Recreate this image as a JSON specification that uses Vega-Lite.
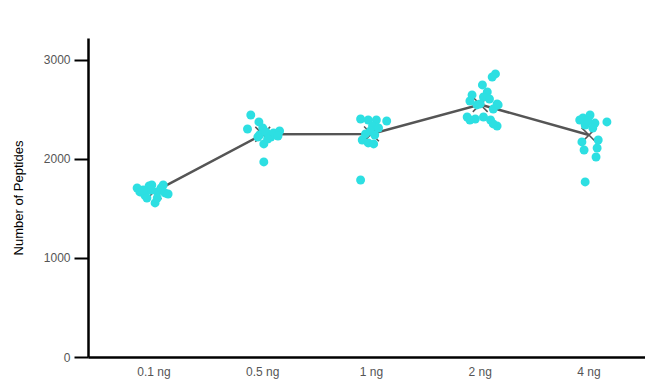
{
  "$schema": "https://vega.github.io/schema/vega-lite/v6.json",
  "width": 557,
  "height": 319,
  "autosize": {"type": "none"},
  "padding": {"left": 88, "top": 38, "right": 0, "bottom": 25},
  "config": {
    "view": {"stroke": null},
    "font": "Liberation Sans"
  },
  "data": {
    "values": [
      {"dose": "0.1 ng", "peptides": 1707, "jitter": -0.31},
      {"dose": "0.1 ng", "peptides": 1667, "jitter": -0.26},
      {"dose": "0.1 ng", "peptides": 1636, "jitter": -0.17},
      {"dose": "0.1 ng", "peptides": 1727, "jitter": -0.09},
      {"dose": "0.1 ng", "peptides": 1606, "jitter": -0.13},
      {"dose": "0.1 ng", "peptides": 1737, "jitter": -0.04},
      {"dose": "0.1 ng", "peptides": 1556, "jitter": 0.02},
      {"dose": "0.1 ng", "peptides": 1667, "jitter": 0.06},
      {"dose": "0.1 ng", "peptides": 1707, "jitter": 0.13},
      {"dose": "0.1 ng", "peptides": 1737, "jitter": 0.17},
      {"dose": "0.1 ng", "peptides": 1657, "jitter": 0.2},
      {"dose": "0.1 ng", "peptides": 1646, "jitter": 0.26},
      {"dose": "0.1 ng", "peptides": 1606, "jitter": 0.06},
      {"dose": "0.1 ng", "peptides": 1687, "jitter": -0.06},
      {"dose": "0.1 ng", "peptides": 1687, "jitter": -0.2},
      {"dose": "0.5 ng", "peptides": 2444, "jitter": -0.22},
      {"dose": "0.5 ng", "peptides": 2303, "jitter": -0.28},
      {"dose": "0.5 ng", "peptides": 2374, "jitter": -0.07},
      {"dose": "0.5 ng", "peptides": 2313, "jitter": 0.0},
      {"dose": "0.5 ng", "peptides": 2242, "jitter": -0.06},
      {"dose": "0.5 ng", "peptides": 2273, "jitter": 0.06},
      {"dose": "0.5 ng", "peptides": 2222, "jitter": 0.15},
      {"dose": "0.5 ng", "peptides": 2152, "jitter": 0.02},
      {"dose": "0.5 ng", "peptides": 2263, "jitter": 0.2},
      {"dose": "0.5 ng", "peptides": 2283, "jitter": 0.31},
      {"dose": "0.5 ng", "peptides": 2232, "jitter": 0.28},
      {"dose": "0.5 ng", "peptides": 1970, "jitter": 0.02},
      {"dose": "0.5 ng", "peptides": 2202, "jitter": 0.09},
      {"dose": "0.5 ng", "peptides": 2222, "jitter": -0.09},
      {"dose": "1 ng", "peptides": 2404, "jitter": -0.2},
      {"dose": "1 ng", "peptides": 2394, "jitter": -0.06},
      {"dose": "1 ng", "peptides": 2394, "jitter": 0.09},
      {"dose": "1 ng", "peptides": 2384, "jitter": 0.28},
      {"dose": "1 ng", "peptides": 2333, "jitter": 0.02},
      {"dose": "1 ng", "peptides": 2283, "jitter": -0.02},
      {"dose": "1 ng", "peptides": 2253, "jitter": -0.11},
      {"dose": "1 ng", "peptides": 2242, "jitter": 0.06},
      {"dose": "1 ng", "peptides": 2192, "jitter": -0.17},
      {"dose": "1 ng", "peptides": 2162, "jitter": -0.06},
      {"dose": "1 ng", "peptides": 2152, "jitter": 0.04},
      {"dose": "1 ng", "peptides": 2313, "jitter": 0.13},
      {"dose": "1 ng", "peptides": 1788, "jitter": -0.2},
      {"dose": "2 ng", "peptides": 2859, "jitter": 0.28},
      {"dose": "2 ng", "peptides": 2828, "jitter": 0.22},
      {"dose": "2 ng", "peptides": 2748, "jitter": 0.04},
      {"dose": "2 ng", "peptides": 2677, "jitter": 0.13},
      {"dose": "2 ng", "peptides": 2647, "jitter": -0.15},
      {"dose": "2 ng", "peptides": 2586, "jitter": -0.19},
      {"dose": "2 ng", "peptides": 2626, "jitter": 0.06},
      {"dose": "2 ng", "peptides": 2606, "jitter": 0.17},
      {"dose": "2 ng", "peptides": 2556, "jitter": 0.31},
      {"dose": "2 ng", "peptides": 2556, "jitter": 0.0},
      {"dose": "2 ng", "peptides": 2546, "jitter": -0.06},
      {"dose": "2 ng", "peptides": 2505, "jitter": 0.24},
      {"dose": "2 ng", "peptides": 2424, "jitter": -0.24},
      {"dose": "2 ng", "peptides": 2404, "jitter": -0.09},
      {"dose": "2 ng", "peptides": 2424, "jitter": 0.06},
      {"dose": "2 ng", "peptides": 2394, "jitter": 0.19},
      {"dose": "2 ng", "peptides": 2333, "jitter": 0.31},
      {"dose": "2 ng", "peptides": 2354, "jitter": 0.24},
      {"dose": "2 ng", "peptides": 2394, "jitter": -0.19},
      {"dose": "2 ng", "peptides": 2546, "jitter": 0.33},
      {"dose": "4 ng", "peptides": 2414, "jitter": -0.11},
      {"dose": "4 ng", "peptides": 2444, "jitter": 0.02},
      {"dose": "4 ng", "peptides": 2343, "jitter": -0.07},
      {"dose": "4 ng", "peptides": 2363, "jitter": 0.11},
      {"dose": "4 ng", "peptides": 2313, "jitter": 0.07},
      {"dose": "4 ng", "peptides": 2374, "jitter": 0.33},
      {"dose": "4 ng", "peptides": 2172, "jitter": -0.13},
      {"dose": "4 ng", "peptides": 2192, "jitter": 0.17},
      {"dose": "4 ng", "peptides": 2091, "jitter": -0.09},
      {"dose": "4 ng", "peptides": 2111, "jitter": 0.15},
      {"dose": "4 ng", "peptides": 2020, "jitter": 0.13},
      {"dose": "4 ng", "peptides": 1768, "jitter": -0.07},
      {"dose": "4 ng", "peptides": 2384, "jitter": -0.02},
      {"dose": "4 ng", "peptides": 2394, "jitter": -0.17}
    ]
  },
  "encoding": {
    "x": {
      "field": "dose",
      "type": "nominal",
      "sort": ["0.1 ng", "0.5 ng", "1 ng", "2 ng", "4 ng"],
      "scale": {"type": "band", "paddingInner": 0, "paddingOuter": 0.061, "align": 0.875},
      "axis": {
        "title": null,
        "labelAngle": 0,
        "ticks": false,
        "domainColor": "#000000",
        "domainWidth": 2.5,
        "labelColor": "#555555",
        "labelFontSize": 12,
        "labelPadding": 9
      }
    }
  },
  "layer": [
    {
      "mark": {"type": "line", "color": "#555555", "strokeWidth": 2.5},
      "encoding": {
        "y": {
          "aggregate": "mean",
          "field": "peptides",
          "type": "quantitative",
          "scale": {"domain": [0, 3222], "nice": false, "zero": true},
          "axis": {
            "title": "Number of Peptides",
            "titleFontWeight": "normal",
            "titleFontSize": 13,
            "titleColor": "#000000",
            "values": [0, 1000, 2000, 3000],
            "format": "d",
            "grid": false,
            "domainColor": "#000000",
            "domainWidth": 2.5,
            "tickColor": "#000000",
            "tickWidth": 2,
            "tickSize": 14,
            "labelColor": "#555555",
            "labelFontSize": 12,
            "labelPadding": 4,
            "titlePadding": 18
          }
        }
      }
    },
    {
      "mark": {"type": "point", "shape": "M-1,-1L1,1M-1,1L1,-1", "filled": false, "color": "#555555", "strokeWidth": 1.5, "size": 220, "opacity": 1},
      "encoding": {
        "y": {"aggregate": "mean", "field": "peptides", "type": "quantitative"}
      }
    },
    {
      "mark": {"type": "circle", "color": "#2ddfe2", "size": 80, "opacity": 1},
      "encoding": {
        "y": {"field": "peptides", "type": "quantitative"},
        "xOffset": {"field": "jitter", "type": "quantitative", "scale": {"domain": [-1, 1]}}
      }
    }
  ]
}
